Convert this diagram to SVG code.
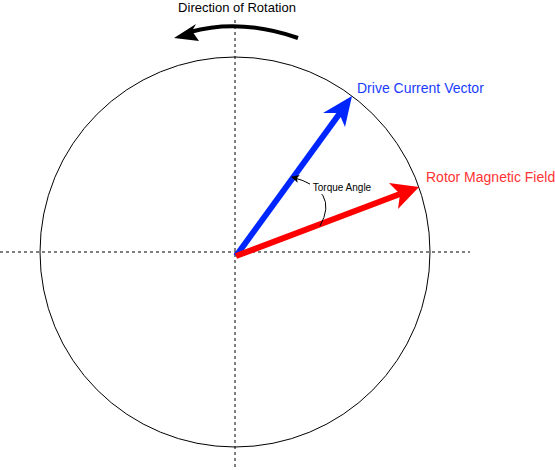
<svg xmlns="http://www.w3.org/2000/svg" width="555" height="470" viewBox="0 0 555 470">
<defs>
<style>
text{font-family:"Liberation Sans",Arial,sans-serif}
.dash{stroke:#000;stroke-width:1;stroke-dasharray:3,3;fill:none}
</style>
<marker id="ahB" markerWidth="8" markerHeight="8" refX="7" refY="4" orient="auto" markerUnits="userSpaceOnUse"><path d="M0,0 L8,4 L0,8 L2,4 Z" fill="#000"/></marker>
</defs>
<rect width="555" height="470" fill="#fff"/>
<g id="axes">
<line class="dash" x1="235" y1="20" x2="235" y2="467"/>
<line class="dash" x1="0" y1="252" x2="470" y2="252"/>
</g>
<g id="circle"><circle cx="235" cy="252" r="195" fill="none" stroke="#000" stroke-width="1"/></g>
<g id="connectors">
<path d="M298,38 Q240,18 190,32" fill="none" stroke="#000" stroke-width="4"/>
<path d="M174,38 L196,24 L192,31 L199,41 Z" fill="#000"/>
<line x1="236" y1="256" x2="340" y2="113" stroke="#0026ff" stroke-width="6"/>
<path d="M352,96 L345,127 L339,113 L323,113 Z" fill="#0026ff"/>
<line x1="236" y1="256" x2="400" y2="194" stroke="#ff0000" stroke-width="6"/>
<path d="M419,187 L398,209 L400,194 L389,183 Z" fill="#ff0000"/>
<path d="M320,226 Q340,190 292,177" fill="none" stroke="#000" stroke-width="1" marker-end="url(#ahB)"/>
</g>
<g id="labels">
<text x="237" y="12" font-size="13" text-anchor="middle" fill="#000">Direction of Rotation</text>
<text x="357" y="93" font-size="14" fill="#1a3cff">Drive Current Vector</text>
<text x="426" y="182" font-size="14" fill="#ff3333">Rotor Magnetic Field</text>
<rect x="310" y="182" width="66" height="12" fill="#fff"/>
<text x="342" y="191" font-size="10" text-anchor="middle" fill="#000">Torque Angle</text>
</g>
</svg>
